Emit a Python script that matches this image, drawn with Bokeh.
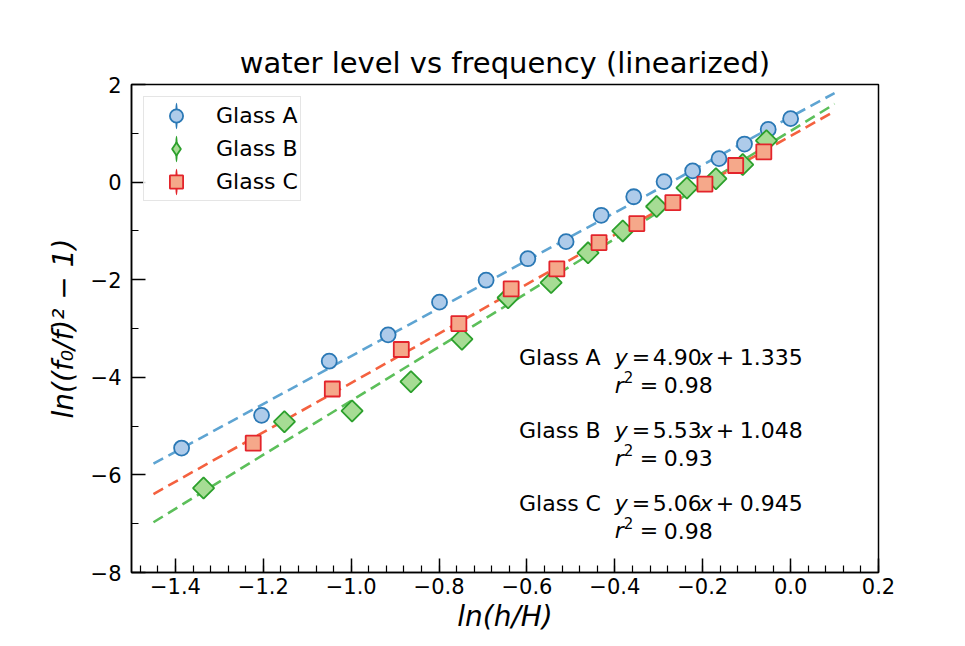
from bokeh.plotting import figure
from bokeh.models import (Range1d, FixedTicker, CustomJSTickFormatter, Legend,
                          LegendItem, Label)
from bokeh.embed import file_html
from bokeh.resources import INLINE

# ---------------- data ----------------
glass_a_x = [-1.386, -1.204, -1.050, -0.916, -0.799, -0.693, -0.598, -0.511,
             -0.431, -0.357, -0.288, -0.223, -0.163, -0.105, -0.051, 0.000]
glass_a_y = [-5.45, -4.78, -3.67, -3.13, -2.46, -2.01, -1.57, -1.22,
             -0.68, -0.30, 0.01, 0.23, 0.48, 0.78, 1.08, 1.30]

glass_b_x = [-1.336, -1.152, -0.998, -0.864, -0.748, -0.643, -0.545,
             -0.461, -0.382, -0.305, -0.236, -0.170, -0.109, -0.055]
glass_b_y = [-6.27, -4.91, -4.69, -4.09, -3.22, -2.37, -2.06,
             -1.45, -1.00, -0.50, -0.12, 0.07, 0.36, 0.85]

glass_c_x = [-1.223, -1.043, -0.886, -0.755, -0.636, -0.532,
             -0.436, -0.350, -0.268, -0.195, -0.125, -0.061]
glass_c_y = [-5.35, -4.24, -3.43, -2.90, -2.19, -1.78,
             -1.24, -0.85, -0.42, -0.04, 0.34, 0.62]

names = ["Glass A", "Glass B", "Glass C"]
slopes = [4.90, 5.53, 5.06]
intercepts = [1.335, 1.048, 0.945]
r_squared = [0.98, 0.93, 0.98]
fit_x_range = [-1.45, 0.10]

x_ticks = [-1.4, -1.2, -1.0, -0.8, -0.6, -0.4, -0.2, 0.0, 0.2]
y_ticks = [-8, -6, -4, -2, 0, 2]

# ---------------- styling ----------------
FONT = "DejaVu Sans"
NAN = float("nan")
edge_colors = ["#2a78b5", "#2ca02c", "#e3242b"]
fill_colors = ["#aecbea", "#a6dc94", "#f5a88a"]
fit_colors = ["#5ea4d2", "#5cbf5a", "#f4613f"]

p = figure(width=949, height=638, x_range=Range1d(-1.5, 0.2), y_range=Range1d(-8, 2),
           output_backend="svg", toolbar_location=None,
           min_border_left=131, min_border_right=71, min_border_top=84, min_border_bottom=66)

p.title.text = "water level vs frequency (linearized)"
p.title.align = "center"
p.title.text_font = FONT
p.title.text_font_size = "29px"
p.title.text_font_style = "normal"
p.title.text_color = "black"
p.title.standoff = 10

p.xgrid.visible = False
p.ygrid.visible = False
p.outline_line_color = "black"
p.outline_line_width = 1.5
p.outline_line_alpha = 1.0
p.background_fill_color = "white"
p.border_fill_color = "white"

minor_x = [round(-1.48 + 0.04 * i, 2) for i in range(43)]
minor_y = [-7, -5, -3, -1, 1]
p.xaxis.ticker = FixedTicker(ticks=x_ticks, minor_ticks=minor_x)
p.yaxis.ticker = FixedTicker(ticks=y_ticks, minor_ticks=minor_y)

p.xaxis.formatter = CustomJSTickFormatter(code="""
    const v = Math.abs(tick) < 1e-9 ? 0 : tick;
    return (v < 0 ? "\u2212" : "") + Math.abs(v).toFixed(1);
""")
p.yaxis.formatter = CustomJSTickFormatter(code="""
    const v = Math.abs(tick) < 1e-9 ? 0 : tick;
    return (v < 0 ? "\u2212" : "") + Math.abs(v).toFixed(0);
""")

for ax in (p.xaxis[0], p.yaxis[0]):
    ax.axis_line_width = 1.5
    ax.axis_line_color = "black"
    ax.major_tick_in = 14
    ax.major_tick_out = 0
    ax.minor_tick_in = 7
    ax.minor_tick_out = 0
    ax.major_tick_line_width = 1.5
    ax.minor_tick_line_width = 1.2
    ax.major_tick_line_color = "black"
    ax.minor_tick_line_color = "black"
    ax.major_label_text_font = FONT
    ax.major_label_text_font_size = "21px"
    ax.major_label_text_color = "black"
    ax.axis_label_text_font = FONT
    ax.axis_label_text_font_size = "28px"
    ax.axis_label_text_font_style = "italic"
    ax.axis_label_text_color = "black"

p.xaxis.axis_label = "ln(h/H)"
p.yaxis.axis_label = "ln((f\u2080/f)\u00b2 \u2212 1)"
p.xaxis.major_label_standoff = 5
p.yaxis.major_label_standoff = 10
p.xaxis.axis_label_standoff = 3
p.yaxis.axis_label_standoff = 8

# ---------------- fit lines ----------------
for s, b, c in zip(slopes, intercepts, fit_colors):
    xs = list(fit_x_range)
    ys = [s * xv + b for xv in xs]
    p.line(xs, ys, line_color=c, line_width=2.6, line_dash="11 6")

# ---------------- data markers ----------------
p.scatter(glass_a_x, glass_a_y, marker="circle", size=15,
          fill_color=fill_colors[0], line_color=edge_colors[0], line_width=1.8)
p.scatter(glass_b_x, glass_b_y, marker="square", angle=0.785398, size=15,
          fill_color=fill_colors[1], line_color=edge_colors[1], line_width=1.8)
p.scatter(glass_c_x, glass_c_y, marker="square", size=15,
          fill_color=fill_colors[2], line_color=edge_colors[2], line_width=1.8)

# ---------------- legend (marker with error-bar stroke) ----------------
legend_markers = ["circle", "diamond", "square"]
items = []
for name, mk, ec, fc in zip(names, legend_markers, edge_colors, fill_colors):
    whisk = p.ellipse(x=[NAN], y=[NAN], width=2.4, height=24, width_units="screen",
                      height_units="screen", fill_color=ec, line_color=None)
    mark = p.scatter(x=[NAN], y=[NAN], marker=mk, fill_color=fc, line_color=ec,
                     line_width=1.8)
    items.append(LegendItem(label=name, renderers=[whisk, mark]))

legend = Legend(items=items, location="top_left", margin=12, padding=2, spacing=0,
                glyph_width=60, glyph_height=33, label_height=33, label_standoff=10,
                label_text_font=FONT, label_text_font_size="22px",
                label_text_color="black", border_line_color="#cccccc",
                border_line_width=1, background_fill_color="white",
                background_fill_alpha=0.85)
p.add_layout(legend)

# ---------------- fit annotations ----------------
name_x = -0.618
eq_x = -0.40
eq_base = [-3.585, -5.08, -6.58]
r2_base = [-4.16, -5.66, -7.14]


def add_text(x, y, text, dx=0, dy=0, style="normal", size="22px"):
    p.add_layout(Label(x=x, y=y, x_offset=dx, y_offset=dy, text=text,
                       text_font=FONT, text_font_size=size, text_font_style=style,
                       text_baseline="alphabetic", text_align="left",
                       text_color="black"))


for name, s, b, r2, yb, yr in zip(names, slopes, intercepts, r_squared, eq_base, r2_base):
    add_text(name_x, yb, name)
    add_text(eq_x, yb, "y", 0, 0, "italic")
    add_text(eq_x, yb, "=", 17)
    add_text(eq_x, yb, f"{s:.2f}", 38)
    add_text(eq_x, yb, "x", 85, 0, "italic")
    add_text(eq_x, yb, "+", 101)
    add_text(eq_x, yb, f"{b:.3f}", 125)
    add_text(eq_x, yr, "r", 0, 0, "italic")
    add_text(eq_x, yr, "2", 9, 8, "normal", "15px")
    add_text(eq_x, yr, "=", 25)
    add_text(eq_x, yr, f"{r2:.2f}", 49)

open("out.html", "w").write(file_html(p, INLINE))
